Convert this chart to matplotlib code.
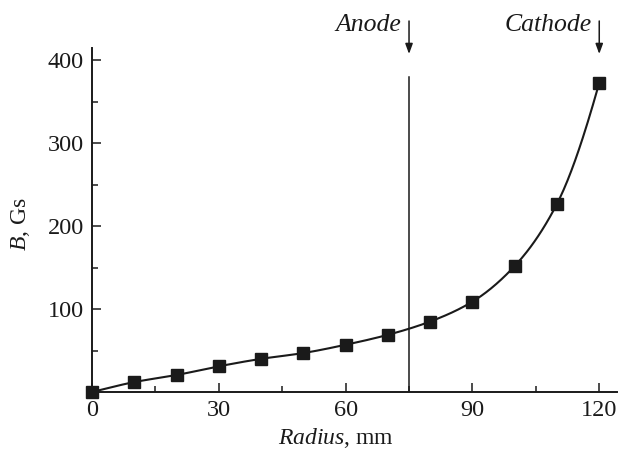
import numpy as np
import matplotlib
matplotlib.use("Agg")
import matplotlib.pyplot as plt
from matplotlib.ticker import MultipleLocator, FixedLocator
import matplotlib.transforms as mtransforms

radius = [0, 10, 20, 30, 40, 50, 60, 70, 80, 90, 100, 110, 120]
b_field = [0, 12, 20.5, 31, 40, 47, 57, 69, 85, 109, 152, 227, 373]
anode_r = 75
anode_top = 380
cathode_r = 120
x_ticks = [0, 30, 60, 90, 120]
y_ticks = [100, 200, 300, 400]

plt.rcParams['font.family'] = ['Liberation Serif', 'DejaVu Serif']
plt.rcParams['mathtext.fontset'] = 'custom'
plt.rcParams['mathtext.rm'] = 'Liberation Serif'
plt.rcParams['mathtext.it'] = 'Liberation Serif:italic'


def pchip(x, y, xs):
    x = np.asarray(x, float)
    y = np.asarray(y, float)
    h = np.diff(x)
    d = np.diff(y) / h
    n = len(x)
    m = np.zeros(n)
    for k in range(1, n - 1):
        if d[k - 1] * d[k] > 0:
            w1 = 2 * h[k] + h[k - 1]
            w2 = h[k] + 2 * h[k - 1]
            m[k] = (w1 + w2) / (w1 / d[k - 1] + w2 / d[k])
    m[0] = d[0]
    m[-1] = ((2 * h[-1] + h[-2]) * d[-1] - h[-1] * d[-2]) / (h[-1] + h[-2])
    idx = np.clip(np.searchsorted(x, xs) - 1, 0, n - 2)
    t = (xs - x[idx]) / h[idx]
    h00 = 2 * t**3 - 3 * t**2 + 1
    h10 = t**3 - 2 * t**2 + t
    h01 = -2 * t**3 + 3 * t**2
    h11 = t**3 - t**2
    return h00 * y[idx] + h10 * h[idx] * m[idx] + h01 * y[idx + 1] + h11 * h[idx] * m[idx + 1]


fig = plt.figure(figsize=(6.21, 4.53), dpi=100)
ax = fig.add_axes([92 / 621, 1 - 392 / 453, 525 / 621, 344 / 453])

xs = np.linspace(radius[0], radius[-1], 400)
ax.plot(xs, pchip(radius, b_field, xs), color='#1a1a1a', lw=1.5, zorder=2)
ax.plot(radius, b_field, ls='none', marker='s', ms=8.5, color='#1a1a1a',
        zorder=3, clip_on=False)
ax.plot([anode_r, anode_r], [0, anode_top], color='#1a1a1a', lw=1.1, zorder=1)

ax.set_xlim(0, 124.2)
ax.set_ylim(0, 415)
ax.xaxis.set_major_locator(FixedLocator(x_ticks))
ax.xaxis.set_minor_locator(MultipleLocator(15))
ax.yaxis.set_major_locator(FixedLocator(y_ticks))
ax.yaxis.set_minor_locator(FixedLocator([50, 150, 250, 350]))

for s in ['top', 'right']:
    ax.spines[s].set_visible(False)
for s in ['left', 'bottom']:
    ax.spines[s].set_linewidth(1.4)
    ax.spines[s].set_color('#1a1a1a')

ax.tick_params(which='major', direction='in', length=6.5, width=1.1,
               labelsize=17.5, pad=6, colors='#1a1a1a')
ax.tick_params(which='minor', direction='in', length=4.5, width=1.1,
               colors='#1a1a1a')

fig.text(336 / 621, 1 - 438 / 453, r'$Radius$, mm', fontsize=17,
         ha='center', va='center', color='#1a1a1a')
fig.text(21 / 621, 1 - 224 / 453, r'$B$, Gs', fontsize=17, rotation=90,
         ha='center', va='center', color='#1a1a1a')

trans = mtransforms.blended_transform_factory(ax.transData, ax.transAxes)
y_top = (392 - 21) / 344
y_tip = (392 - 54) / 344
for xr, label in [(anode_r, 'Anode'), (cathode_r, 'Cathode')]:
    ax.annotate('', xy=(xr, y_tip), xytext=(xr, y_top), xycoords=trans,
                textcoords=trans, annotation_clip=False,
                arrowprops=dict(arrowstyle='-|>,head_length=0.6,head_width=0.22',
                                color='#1a1a1a', lw=1.1, shrinkA=0, shrinkB=0))
    ax.text(xr - 1.8, (392 - 25) / 344, label, transform=trans, fontsize=18.5,
            style='italic', ha='right', va='center', color='#1a1a1a')

fig.savefig('out.png', dpi=100)
